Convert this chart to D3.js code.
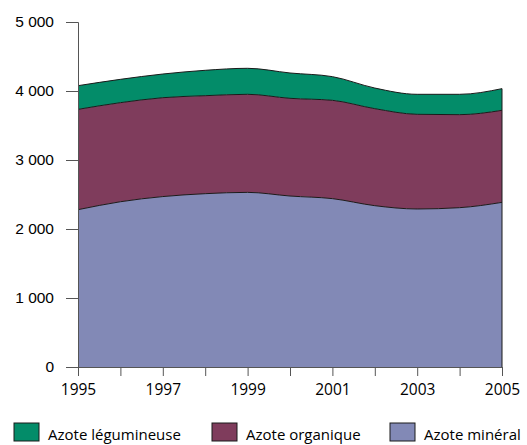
<!DOCTYPE html>
<html>
<head>
<meta charset="utf-8">
<script src="https://cdn.jsdelivr.net/npm/d3@7"></script>
<style>
  body { margin: 0; background: #fff; }
  svg { display: block; }
</style>
</head>
<body>
<svg id="chart" width="527" height="445"></svg>
<script>
// values (thousand tonnes N)
const years = [1995, 1996, 1997, 1998, 1999, 2000, 2001, 2002, 2003, 2004, 2005];
const mineral = [2280, 2395, 2470, 2512, 2531, 2478, 2440, 2338, 2290, 2309, 2386];
const organique = [1454, 1436, 1433, 1420, 1421, 1416, 1425, 1406, 1372, 1348, 1334];
const legumineuse = [343, 338, 343, 368, 377, 367, 343, 299, 290, 295, 314];
const yTicks = [0, 1000, 2000, 3000, 4000, 5000];
const xTicks = [1995, 1997, 1999, 2001, 2003, 2005];

const series = [
  { key: "mineral", label: "Azote minéral", color: "#8289b6", values: mineral },
  { key: "organique", label: "Azote organique", color: "#7f3c5c", values: organique },
  { key: "legumineuse", label: "Azote légumineuse", color: "#038c69", values: legumineuse },
];
const legendOrder = ["legumineuse", "organique", "mineral"];

const svg = d3.select("#chart");
const margin = { top: 22, left: 78, right: 25, bottom: 78 };
const width = 527 - margin.left - margin.right;
const height = 445 - margin.top - margin.bottom;

const table = years.map((y, i) => {
  const row = { year: y };
  series.forEach((s) => (row[s.key] = s.values[i]));
  return row;
});

const stack = d3.stack().keys(series.map((s) => s.key));
const layers = stack(table);

const x = d3.scaleLinear().domain([1995, 2005]).range([0, width]);
const y = d3.scaleLinear().domain([0, 5000]).range([height, 0]);

const g = svg.append("g").attr("transform", `translate(${margin.left},${margin.top})`);

const area = d3
  .area()
  .x((d) => x(d.data.year))
  .y0((d) => y(d[0]))
  .y1((d) => y(d[1]))
  .curve(d3.curveMonotoneX);

const topLine = d3
  .line()
  .x((d) => x(d.data.year))
  .y((d) => y(d[1]))
  .curve(d3.curveMonotoneX);

g.selectAll("path.layer")
  .data(layers)
  .join("path")
  .attr("class", "layer")
  .attr("fill", (d, i) => series[i].color)
  .attr("d", area);

g.selectAll("path.edge")
  .data(layers)
  .join("path")
  .attr("class", "edge")
  .attr("fill", "none")
  .attr("stroke", "#1a1a1a")
  .attr("stroke-width", 1)
  .attr("d", topLine);

// right edge of the stack
g.append("line")
  .attr("x1", x(2005))
  .attr("x2", x(2005))
  .attr("y1", y(0))
  .attr("y2", y(layers[layers.length - 1][years.length - 1][1]))
  .attr("stroke", "#1a1a1a")
  .attr("stroke-width", 1);

const fmt = (v) => d3.format(",")(v).replace(/,/g, " ");

const yAxis = g
  .append("g")
  .call(d3.axisLeft(y).tickValues(yTicks).tickSize(12).tickPadding(12).tickFormat(fmt));
yAxis.select(".domain").attr("stroke", "#555").attr("d", `M-12,0.5H0.5V${height}`);
yAxis.selectAll(".tick line").attr("stroke", "#555");
yAxis
  .selectAll(".tick text")
  .attr("fill", "#000")
  .attr("font-family", "Liberation Sans, Arial, sans-serif")
  .attr("font-size", 15.5);

const xAxis = g
  .append("g")
  .attr("transform", `translate(0,${height})`)
  .call(d3.axisBottom(x).tickValues(years).tickSize(9).tickPadding(8).tickFormat((d) => (xTicks.includes(d) ? d : "")));
xAxis.select(".domain").attr("stroke", "#555").attr("d", `M0,0.5H${width}`);
xAxis.selectAll(".tick line").attr("stroke", "#555");
xAxis
  .selectAll(".tick text")
  .attr("fill", "#000")
  .attr("font-family", "Open Sans, Noto Sans, sans-serif")
  .attr("font-size", 15.5);

// legend
const legendX = [14, 212, 390];
const legend = svg
  .append("g")
  .selectAll("g")
  .data(legendOrder.map((k) => series.find((s) => s.key === k)))
  .join("g")
  .attr("transform", (d, i) => `translate(${legendX[i]},423)`);

legend
  .append("rect")
  .attr("width", 25)
  .attr("height", 18)
  .attr("fill", (d) => d.color)
  .attr("stroke", "#1a1a1a")
  .attr("stroke-width", 1);

legend
  .append("text")
  .attr("x", 34)
  .attr("y", 17)
  .attr("fill", "#000")
  .attr("font-family", "Open Sans, Noto Sans, sans-serif")
  .attr("font-size", 15)
  .text((d) => d.label);
</script>
</body>
</html>
